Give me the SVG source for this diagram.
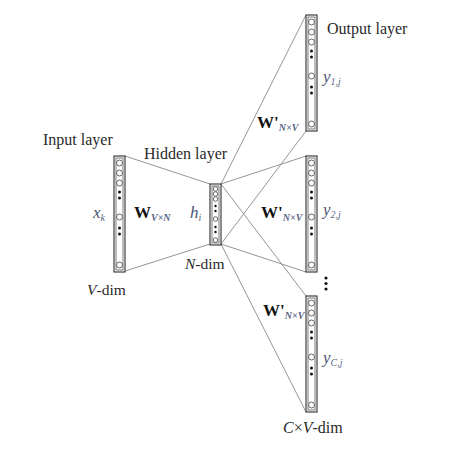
<svg xmlns="http://www.w3.org/2000/svg" width="474" height="451" viewBox="0 0 474 451">
<defs>
<style>
text{font-family:"Liberation Serif","Times New Roman",serif;fill:#2a2a2a}
.lbl{font-size:16px}
.dim{font-size:15.5px}
.var{font-size:17px;font-style:italic;fill:#4a5673}
.sub{font-size:10px;font-style:italic;fill:#5a6684}
.w{font-size:17px;font-weight:bold;fill:#111}
.con{stroke:#8a8a8a;stroke-width:0.9;fill:none}
.outer{fill:#ffffff;stroke:#2e2e2e;stroke-width:1.1}
.inner{fill:none;stroke:#5a5a5a;stroke-width:0.8}
.c{fill:#fff;stroke:#555;stroke-width:0.9}
.d{fill:#111}
</style>
<g id="col">
<rect class="outer" x="0" y="0" width="11" height="116"/>
<rect class="inner" x="2" y="2" width="7" height="112"/>
<circle class="c" cx="5.5" cy="7" r="3"/>
<circle class="c" cx="5.5" cy="17" r="3"/>
<circle class="c" cx="5.5" cy="27" r="3"/>
<circle class="d" cx="5.5" cy="36" r="1.5"/>
<circle class="d" cx="5.5" cy="42" r="1.5"/>
<circle class="c" cx="5.5" cy="61" r="3"/>
<circle class="d" cx="5.5" cy="72" r="1.5"/>
<circle class="d" cx="5.5" cy="78" r="1.5"/>
<circle class="c" cx="5.5" cy="109" r="3"/>
</g>
</defs>
<rect width="474" height="451" fill="#fff"/>
<g id="connectors">
<line class="con" x1="125" y1="156" x2="210" y2="184"/>
<line class="con" x1="125" y1="271" x2="210" y2="244"/>
<line class="con" x1="221" y1="184" x2="306" y2="15"/>
<line class="con" x1="221" y1="244" x2="306" y2="131"/>
<line class="con" x1="221" y1="184" x2="306" y2="156"/>
<line class="con" x1="221" y1="244" x2="306" y2="272"/>
<line class="con" x1="221" y1="184" x2="306" y2="296"/>
<line class="con" x1="221" y1="244" x2="306" y2="412"/>
</g>
<g id="input">
<use href="#col" x="114" y="156"/>
<text class="lbl" x="43" y="145">Input layer</text>
<text class="var" x="93" y="218">x<tspan class="sub" dy="3">k</tspan></text>
<text class="dim" x="87" y="295"><tspan font-style="italic">V</tspan>-dim</text>
<text class="w" x="134" y="218">W<tspan class="sub" dy="3">V×N</tspan></text>
</g>
<g id="hidden">
<rect class="outer" x="210" y="184" width="11" height="61"/>
<rect class="inner" x="212" y="186" width="7" height="57"/>
<circle class="c" cx="215.5" cy="189" r="2.3"/>
<circle class="c" cx="215.5" cy="194" r="2.3"/>
<circle class="c" cx="215.5" cy="199" r="2.3"/>
<circle class="d" cx="215.5" cy="206" r="1.2"/>
<circle class="d" cx="215.5" cy="211" r="1.2"/>
<circle class="c" cx="215.5" cy="219" r="2.3"/>
<circle class="d" cx="215.5" cy="227" r="1.2"/>
<circle class="d" cx="215.5" cy="232" r="1.2"/>
<circle class="c" cx="215.5" cy="240" r="2.3"/>
<text class="lbl" x="144" y="159">Hidden layer</text>
<text class="var" x="190" y="218">h<tspan class="sub" dy="3">i</tspan></text>
<text class="dim" x="185" y="269"><tspan font-style="italic">N</tspan>-dim</text>
</g>
<g id="output1">
<use href="#col" x="306" y="15"/>
<text class="lbl" x="327" y="34">Output layer</text>
<text class="var" x="323" y="82">y<tspan class="sub" dy="3">1,j</tspan></text>
<text class="w" x="257" y="128">W'<tspan class="sub" dy="3">N×V</tspan></text>
</g>
<g id="output2">
<use href="#col" x="306" y="156"/>
<text class="var" x="323" y="215">y<tspan class="sub" dy="3">2,j</tspan></text>
<text class="w" x="261" y="218">W'<tspan class="sub" dy="3">N×V</tspan></text>
</g>
<g id="vdots">
<circle class="d" cx="326" cy="278" r="1.6"/>
<circle class="d" cx="326" cy="283.5" r="1.6"/>
<circle class="d" cx="326" cy="289" r="1.6"/>
</g>
<g id="output3">
<use href="#col" x="306" y="296"/>
<text class="var" x="323" y="363">y<tspan class="sub" dy="3">C,j</tspan></text>
<text class="w" x="263" y="316">W'<tspan class="sub" dy="3">N×V</tspan></text>
<text class="lbl" x="283" y="433"><tspan font-style="italic">C</tspan>×<tspan font-style="italic">V</tspan>-dim</text>
</g>
</svg>
